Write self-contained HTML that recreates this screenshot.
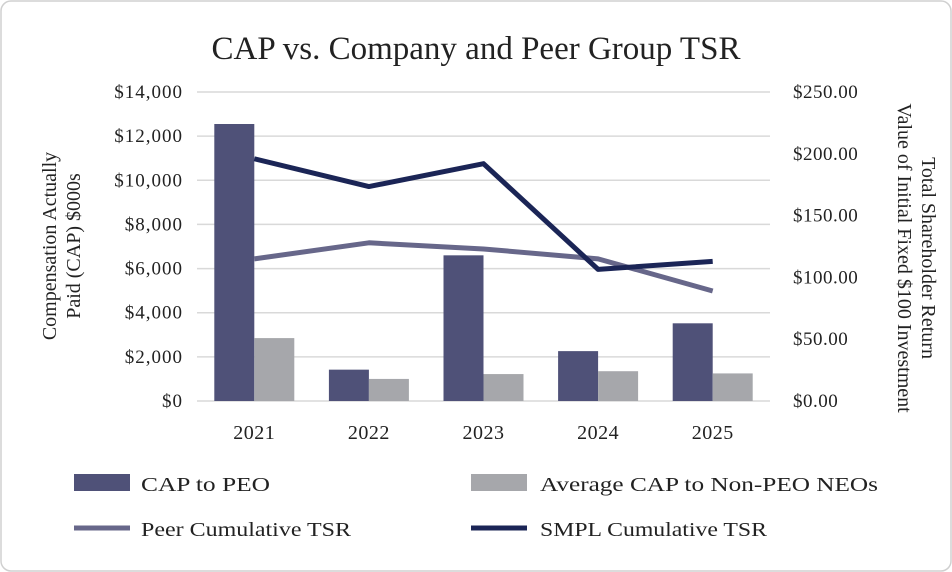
<!DOCTYPE html>
<html><head><meta charset="utf-8"><style>
html,body{margin:0;padding:0;background:#fff}
svg{display:block;font-family:"Liberation Serif",serif}
</style></head><body>
<svg id="chart" width="952" height="572" viewBox="0 0 952 572">
<rect x="1" y="1" width="950" height="570" rx="10" fill="#fff" stroke="#d0d0d0" stroke-width="1.5"/>
<text x="476" y="59" text-anchor="middle" font-size="33" fill="#222">CAP vs. Company and Peer Group TSR</text>
<g id="grid"></g><g id="bars"></g><g id="lines"></g><g id="axes"></g>
<text transform="translate(60,246) rotate(-90)" text-anchor="middle" font-size="20" fill="#222"><tspan x="0" dy="-4">Compensation Actually</tspan><tspan x="0" dy="24">Paid (CAP) $000s</tspan></text>
<text transform="translate(918,258) rotate(90)" text-anchor="middle" font-size="20" fill="#222"><tspan x="0" dy="-4">Total Shareholder Return</tspan><tspan x="0" dy="24">Value of Initial Fixed $100 Investment</tspan></text>
<g>
<rect x="74" y="474" width="56" height="17" fill="#4f5178"/>
<text x="141" y="491" font-size="20" textLength="129" lengthAdjust="spacingAndGlyphs" fill="#222">CAP to PEO</text>
<rect x="471" y="474" width="56" height="17" fill="#a6a7ab"/>
<text x="540" y="491" font-size="20" textLength="338" lengthAdjust="spacingAndGlyphs" fill="#222">Average CAP to Non-PEO NEOs</text>
<line x1="74" y1="528" x2="130" y2="528" stroke="#67678a" stroke-width="5"/>
<text x="141" y="536" font-size="20" textLength="210" lengthAdjust="spacingAndGlyphs" fill="#222">Peer Cumulative TSR</text>
<line x1="471" y1="528" x2="527" y2="528" stroke="#1b2556" stroke-width="5"/>
<text x="540" y="536" font-size="20" textLength="227" lengthAdjust="spacingAndGlyphs" fill="#222">SMPL Cumulative TSR</text>
</g>
</svg>
<script>
const categories=["2021","2022","2023","2024","2025"];
const capPeo=[12550,1420,6600,2260,3520];
const capNeo=[2850,1000,1220,1350,1250];
const peerTsr=[115,128,123,115,89];
const smplTsr=[196,173.5,192,106.5,113];
const leftTicks=[0,2000,4000,6000,8000,10000,12000,14000];
const rightTicks=[0,50,100,150,200,250];
const NS="http://www.w3.org/2000/svg";
const X0=197,X1=770,Y0=401,Y1=92;
const band=(X1-X0)/categories.length;
const xc=i=>X0+band*(i+0.5);
const yL=v=>Y0-(v/14000)*(Y0-Y1);
const yR=v=>Y0-(v/250)*(Y0-Y1);
function mk(tag,attrs,parent){const e=document.createElementNS(NS,tag);for(const k in attrs)e.setAttribute(k,attrs[k]);document.getElementById(parent).appendChild(e);return e;}
leftTicks.forEach(t=>{
 const g=mk("line",{x1:X0,x2:X1,y1:yL(t),y2:yL(t),stroke:"#d9d9d9","stroke-width":1.5},"grid");
 
 
 const tx=mk("text",{x:183,y:yL(t)+6,"text-anchor":"end","font-size":19,"letter-spacing":1,fill:"#222"},"axes");
 tx.textContent="$"+t.toLocaleString("en-US");
 
 
});
rightTicks.forEach(t=>{
 const tx=mk("text",{x:793,y:yR(t)+6,"font-size":19,"letter-spacing":0.5,fill:"#222"},"axes");
 tx.textContent="$"+t.toFixed(2);
 
 
});
const bw=40;
categories.forEach((c,i)=>{
 const b1=mk("rect",{x:xc(i)-bw,y:yL(capPeo[i]),width:bw,height:Y0-yL(capPeo[i]),fill:"#4f5178"},"bars");
 
 
 const b2=mk("rect",{x:xc(i),y:yL(capNeo[i]),width:bw,height:Y0-yL(capNeo[i]),fill:"#a6a7ab"},"bars");
 
 
 const tx=mk("text",{x:xc(i),y:439,"text-anchor":"middle","font-size":20,"letter-spacing":0.5,fill:"#222"},"axes");
 tx.textContent=c;
 
 
});
const p1=mk("polyline",{points:peerTsr.map((v,i)=>xc(i)+","+yR(v)).join(" "),fill:"none",stroke:"#67678a","stroke-width":5,"stroke-linejoin":"round"},"lines");


const p2=mk("polyline",{points:smplTsr.map((v,i)=>xc(i)+","+yR(v)).join(" "),fill:"none",stroke:"#1b2556","stroke-width":5,"stroke-linejoin":"round"},"lines");


</script>
</body></html>
